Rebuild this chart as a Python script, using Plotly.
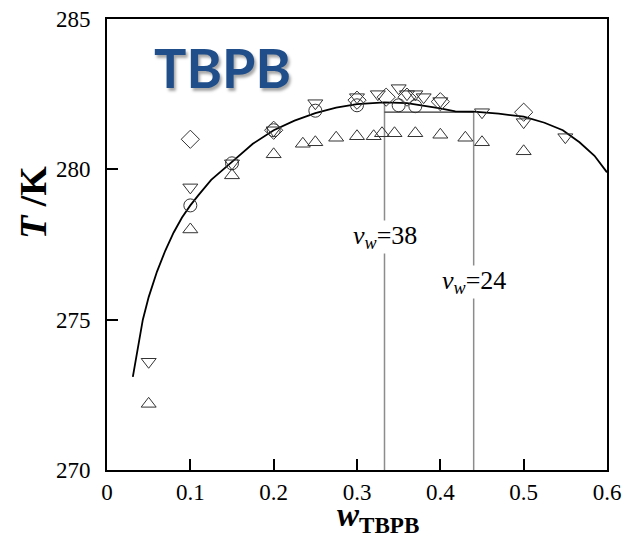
import plotly.graph_objects as go

# ---- data ----
up_w = [0.05, 0.1, 0.15, 0.2, 0.235, 0.25, 0.275, 0.3, 0.32, 0.33, 0.345, 0.37, 0.4, 0.43, 0.45, 0.5]
up_T = [272.2, 278.0, 279.8, 280.5, 280.85, 280.9, 281.05, 281.1, 281.1, 281.2, 281.2, 281.2, 281.15, 281.05, 280.9, 280.6]

down_w = [0.05, 0.1, 0.15, 0.2, 0.25, 0.3, 0.325, 0.35, 0.36, 0.37, 0.38, 0.4, 0.45, 0.5, 0.55]
down_T = [273.6, 279.4, 280.2, 281.3, 282.2, 282.4, 282.5, 282.7, 282.5, 282.5, 282.4, 282.27, 281.9, 281.57, 281.07]

circ_w = [0.1, 0.15, 0.2, 0.25, 0.3, 0.35, 0.37]
circ_T = [278.8, 280.2, 281.3, 281.95, 282.13, 282.13, 282.1]

diam_w = [0.1, 0.2, 0.3, 0.335, 0.36, 0.4, 0.5]
diam_T = [281.0, 281.3, 282.3, 282.4, 282.4, 282.25, 281.9]

curve_w = [0.031, 0.035, 0.04, 0.043, 0.05, 0.06, 0.07, 0.08, 0.09, 0.1, 0.11, 0.125, 0.15, 0.175,
           0.2, 0.225, 0.25, 0.275, 0.3, 0.333, 0.36, 0.38, 0.4, 0.418, 0.44, 0.47, 0.5, 0.525,
           0.547, 0.567, 0.585, 0.6]
curve_T = [273.1, 273.75, 274.55, 275.0, 275.75, 276.6, 277.3, 277.9, 278.4, 278.8, 279.15, 279.65, 280.25, 280.85,
           281.3, 281.62, 281.87, 282.05, 282.17, 282.23, 282.2, 282.12, 282.03, 281.93, 281.92, 281.85, 281.75, 281.55,
           281.3, 280.9, 280.45, 279.9]

tie_w = [0.333, 0.44]
tie_top = [282.23, 281.9]
tie_T = 281.9
tie_labels = ["<i>v</i><sub><i>w</i></sub>=38", "<i>v</i><sub><i>w</i></sub>=24"]
tie_label_T = [277.75, 276.25]

x_ticks = [0, 0.1, 0.2, 0.3, 0.4, 0.5, 0.6]
x_tick_text = ["0", "0.1", "0.2", "0.3", "0.4", "0.5", "0.6"]
y_ticks = [270, 275, 280, 285]

SERIF = "Liberation Serif"

fig = go.Figure()

# tie lines
for w, top in zip(tie_w, tie_top):
    fig.add_trace(go.Scatter(x=[w, w], y=[270, top], mode="lines",
                             line=dict(color="#8c8c8c", width=1.5), hoverinfo="skip", showlegend=False))
fig.add_trace(go.Scatter(x=tie_w, y=[tie_T, tie_T], mode="lines",
                         line=dict(color="#333333", width=1.2), hoverinfo="skip", showlegend=False))

# fitted curve
fig.add_trace(go.Scatter(x=curve_w, y=curve_T, mode="lines",
                         line=dict(color="black", width=1.8),
                         showlegend=False))

mk_line = dict(color="#333333", width=1)
fig.add_trace(go.Scatter(x=up_w, y=up_T, mode="markers", showlegend=False,
                         marker=dict(symbol="triangle-up-open", size=13, line=mk_line, color="#333333")))
fig.add_trace(go.Scatter(x=down_w, y=down_T, mode="markers", showlegend=False,
                         marker=dict(symbol="triangle-down-open", size=13, line=mk_line, color="#333333")))
fig.add_trace(go.Scatter(x=circ_w, y=circ_T, mode="markers", showlegend=False,
                         marker=dict(symbol="circle-open", size=13, line=mk_line, color="#333333")))
fig.add_trace(go.Scatter(x=diam_w, y=diam_T, mode="markers", showlegend=False,
                         marker=dict(symbol="diamond-open", size=14, line=mk_line, color="#333333")))

annotations = []
for w, t, lab in zip(tie_w, tie_label_T, tie_labels):
    annotations.append(dict(x=w, y=t, xref="x", yref="y", text=lab, showarrow=False,
                            font=dict(family=SERIF, size=26, color="black"),
                            bgcolor="white", borderpad=0, xanchor="center", yanchor="middle"))
annotations.append(dict(x=0.23, y=0.892, xref="paper", yref="paper", text="<b>TBPB</b>", showarrow=False,
                        font=dict(family="Lato", size=54, color="#1f4e8a",
                                  shadow="2px 3px 3px rgba(0,0,0,0.35)"),
                        xanchor="center", yanchor="middle"))
annotations.append(dict(x=0.542, y=-0.106, xref="paper", yref="paper",
                        text="<b><i>w</i><sub>TBPB</sub></b>", showarrow=False,
                        font=dict(family=SERIF, size=33, color="black"),
                        xanchor="center", yanchor="middle"))
annotations.append(dict(x=-0.148, y=0.592, xref="paper", yref="paper",
                        text="<b><i>T</i> /K</b>", showarrow=False, textangle=-90,
                        font=dict(family=SERIF, size=38, color="black"),
                        xanchor="center", yanchor="middle"))

axis_common = dict(showline=True, linecolor="black", linewidth=2, mirror=True,
                   ticks="inside", ticklen=11, tickwidth=2, tickcolor="black",
                   showgrid=False, zeroline=False,
                   tickfont=dict(family=SERIF, size=23, color="black"))

fig.update_layout(
    template="none",
    font=dict(family=SERIF, color="black"),
    width=629, height=541,
    margin=dict(l=107, r=22, t=19, b=71),
    paper_bgcolor="white", plot_bgcolor="white",
    xaxis=dict(range=[0, 0.6], tickvals=x_ticks, ticktext=x_tick_text, **axis_common),
    yaxis=dict(range=[270, 285], tickvals=y_ticks, ticklabelstandoff=10, **axis_common),
    annotations=annotations,
)
fig.write_html("out.html")
